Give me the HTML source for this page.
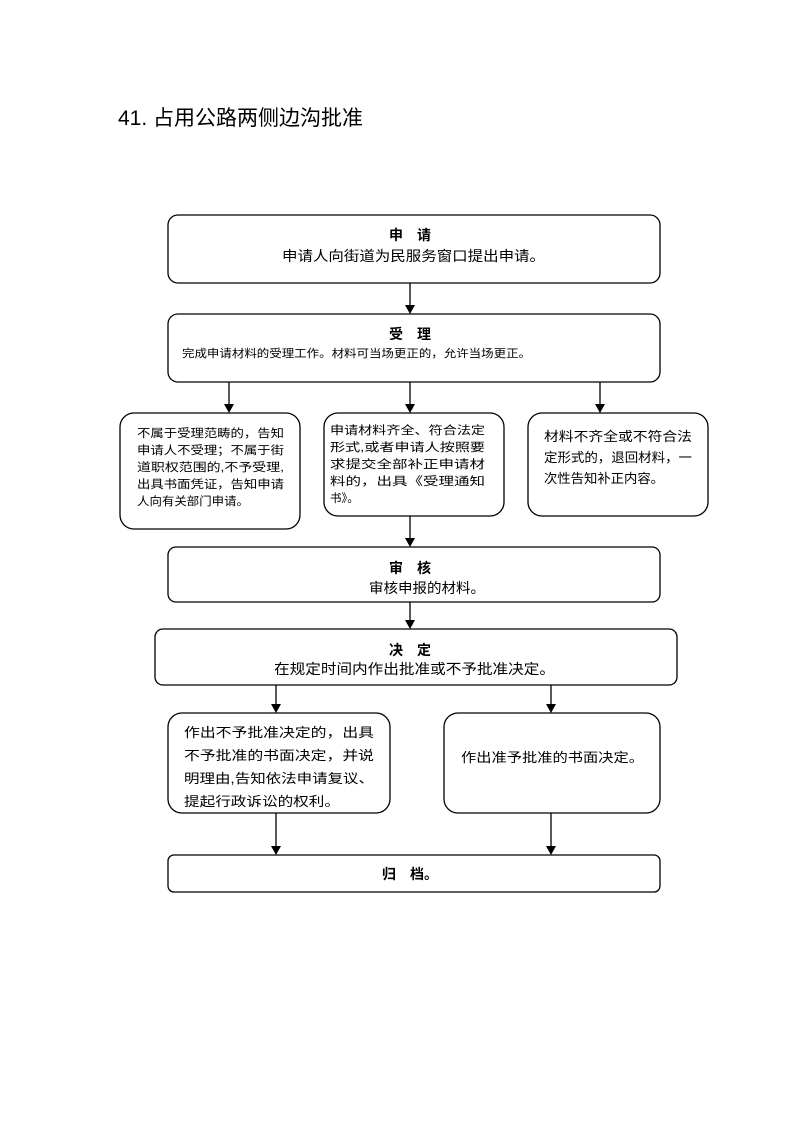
<!DOCTYPE html>
<html><head><meta charset="utf-8"><style>
html,body{margin:0;padding:0;background:#fff;}
svg{display:block;}
text{font-family:"Liberation Sans","Noto Sans CJK SC",sans-serif;fill:#000;}
</style></head><body>
<svg width="793" height="1122" viewBox="0 0 793 1122" xmlns="http://www.w3.org/2000/svg">
<text x="118" y="125" font-size="21">41. 占用公路两侧边沟批准</text>
<g fill="none" stroke="#000" stroke-width="1.3">
<rect x="168" y="215" width="492" height="68" rx="10"/>
<rect x="168" y="314" width="492" height="68" rx="10"/>
<rect x="120" y="413" width="180" height="116" rx="14"/>
<rect x="324" y="413" width="180" height="103" rx="14"/>
<rect x="528" y="413" width="180" height="103" rx="14"/>
<rect x="168" y="547" width="492" height="55" rx="8"/>
<rect x="155" y="629" width="522" height="56" rx="8"/>
<rect x="168" y="713" width="222" height="100" rx="14"/>
<rect x="444" y="713" width="216" height="100" rx="14"/>
<rect x="168" y="855" width="492" height="37" rx="6"/>
<line x1="410" y1="283" x2="410" y2="306"/>
<line x1="229" y1="382" x2="229" y2="405"/>
<line x1="410" y1="382" x2="410" y2="405"/>
<line x1="600" y1="382" x2="600" y2="405"/>
<line x1="410" y1="516" x2="410" y2="539"/>
<line x1="410" y1="602" x2="410" y2="621"/>
<line x1="276" y1="685" x2="276" y2="705"/>
<line x1="551" y1="685" x2="551" y2="705"/>
<line x1="276" y1="813" x2="276" y2="847"/>
<line x1="551" y1="813" x2="551" y2="847"/>
</g>
<g fill="#000">
<path d="M405,305 L415,305 L410,314 Z"/>
<path d="M224,404 L234,404 L229,413 Z"/>
<path d="M405,404 L415,404 L410,413 Z"/>
<path d="M595,404 L605,404 L600,413 Z"/>
<path d="M405,538 L415,538 L410,547 Z"/>
<path d="M405,620 L415,620 L410,629 Z"/>
<path d="M271,704 L281,704 L276,713 Z"/>
<path d="M546,704 L556,704 L551,713 Z"/>
<path d="M271,846 L281,846 L276,855 Z"/>
<path d="M546,846 L556,846 L551,855 Z"/>
</g>
<g font-size="14">
<text x="410" y="240" text-anchor="middle" font-weight="bold">申　请</text>
<text x="282" y="261" textLength="263" lengthAdjust="spacingAndGlyphs">申请人向街道为民服务窗口提出申请。</text>
<text x="410" y="339" text-anchor="middle" font-weight="bold">受　理</text>
<text x="410" y="573" text-anchor="middle" font-weight="bold">审　核</text>
<text x="369" y="593" textLength="116" lengthAdjust="spacingAndGlyphs">审核申报的材料。</text>
<text x="410" y="655" text-anchor="middle" font-weight="bold">决　定</text>
<text x="274" y="674" textLength="281" lengthAdjust="spacingAndGlyphs">在规定时间内作出批准或不予批准决定。</text>
<text x="410" y="879" text-anchor="middle" font-weight="bold">归　档。</text>
</g>
<text x="182" y="357" font-size="11" textLength="349" lengthAdjust="spacingAndGlyphs">完成申请材料的受理工作。材料可当场更正的，允许当场更正。</text>
<g font-size="11.5">
<text x="137" y="437" textLength="147" lengthAdjust="spacingAndGlyphs">不属于受理范畴的，告知</text>
<text x="137" y="454" textLength="147" lengthAdjust="spacingAndGlyphs">申请人不受理；不属于街</text>
<text x="137" y="471" textLength="147" lengthAdjust="spacingAndGlyphs">道职权范围的,不予受理,</text>
<text x="137" y="488" textLength="147" lengthAdjust="spacingAndGlyphs">出具书面凭证，告知申请</text>
<text x="137" y="505" textLength="112" lengthAdjust="spacingAndGlyphs">人向有关部门申请。</text>
<text x="330" y="434" textLength="155" lengthAdjust="spacingAndGlyphs">申请材料齐全、符合法定</text>
<text x="330" y="451" textLength="155" lengthAdjust="spacingAndGlyphs">形式,或者申请人按照要</text>
<text x="330" y="468" textLength="155" lengthAdjust="spacingAndGlyphs">求提交全部补正申请材</text>
<text x="330" y="485" textLength="155" lengthAdjust="spacingAndGlyphs">料的，出具《受理通知</text>
<text x="330" y="502">书》。</text>
</g>
<g font-size="13">
<text x="544" y="441" textLength="148" lengthAdjust="spacingAndGlyphs">材料不齐全或不符合法</text>
<text x="544" y="462" textLength="148" lengthAdjust="spacingAndGlyphs">定形式的，退回材料，一</text>
<text x="544" y="483" textLength="120" lengthAdjust="spacingAndGlyphs">次性告知补正内容。</text>
<text x="184" y="737" textLength="190" lengthAdjust="spacingAndGlyphs">作出不予批准决定的，出具</text>
<text x="184" y="760" textLength="190" lengthAdjust="spacingAndGlyphs">不予批准的书面决定，并说</text>
<text x="184" y="783" textLength="190" lengthAdjust="spacingAndGlyphs">明理由,告知依法申请复议、</text>
<text x="184" y="806" textLength="156" lengthAdjust="spacingAndGlyphs">提起行政诉讼的权利。</text>
<text x="461" y="762" textLength="183" lengthAdjust="spacingAndGlyphs">作出准予批准的书面决定。</text>
</g>
</svg>
</body></html>
